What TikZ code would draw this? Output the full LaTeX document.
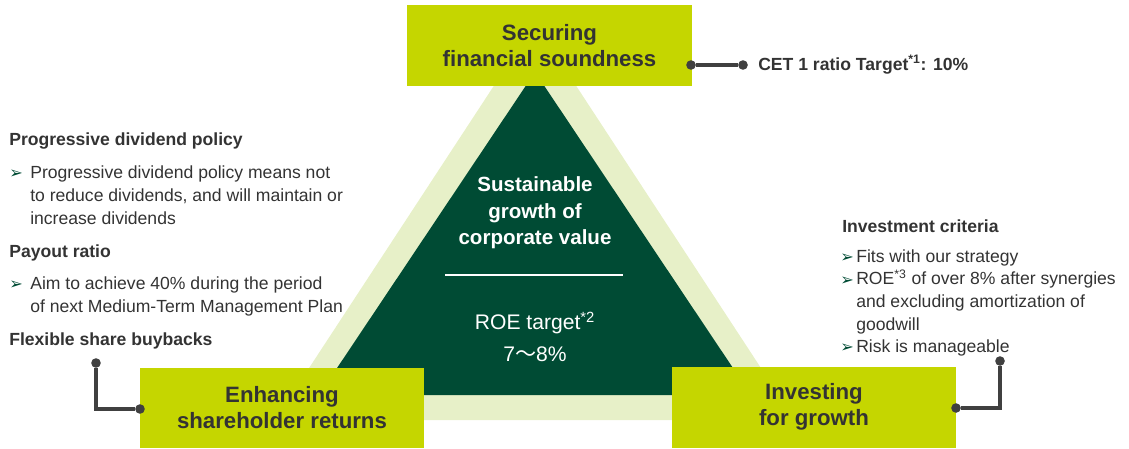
\documentclass[tikz,border=0pt]{standalone}
\usepackage{fontspec}
\setmainfont{Liberation Sans}
\newfontfamily\cjkfont{Noto Sans CJK JP}
\newfontfamily\symfont{DejaVu Sans}
\usepackage{xcolor}
\usetikzlibrary{positioning, calc}
\definecolor{limegreen}{RGB}{197,214,0}
\definecolor{palegreen}{RGB}{231,240,200}
\definecolor{deepgreen}{RGB}{0,75,52}
\definecolor{textgray}{RGB}{51,51,51}
\definecolor{wiregray}{RGB}{64,64,64}
\newcommand{\bul}{{\symfont\fontsize{11.5}{11.5}\selectfont\color{deepgreen}➢}}

\tikzset{
  pillarbox/.style={fill=limegreen, draw=none, inner sep=0pt},
  pillarlabel/.style={font=\fontsize{15.8}{18.5}\selectfont\bfseries, text=textgray, align=center},
  note/.style={font=\fontsize{12.5}{16.2}\selectfont, text=textgray, align=left, anchor=base west, inner sep=0pt},
  notehead/.style={note, font=\fontsize{12.5}{16.2}\selectfont\bfseries},
  wire/.style={wiregray, line width=2.4pt},
  pin/.style={circle, fill=wiregray, inner sep=0pt, minimum size=0.24cm},
}

\begin{document}
\begin{tikzpicture}[x=0.025cm, y=-0.025cm]
        \useasboundingbox (0,0) rectangle (1129,448);

        % Triangles
        \fill[palegreen] (535,23) -- (795,420) -- (275,420) -- cycle;
        \fill[deepgreen] (535,72) -- (751,395) -- (319,395) -- cycle;

        % Centre text
        \node[font=\fontsize{14.6}{18.8}\selectfont\bfseries, text=white, align=center] (goal) at (535,213) {Sustainable\\growth of\\corporate value};
        \draw[white, line width=1.2pt] (445,275) -- (623,275);
        \node[font=\fontsize{15}{23}\selectfont, text=white, align=center] (roe) at (535,337) {ROE target\textsuperscript{*2}\\7{\cjkfont ～}8\%};

        % Pillars
        \node[pillarbox, minimum width=7.125cm, minimum height=2.025cm] (secure) at (549.5,45.5) {};
        \node[pillarlabel] at (secure) {Securing\\financial soundness};
        \node[pillarbox, minimum width=7.1cm, minimum height=2cm, anchor=north west] (returns) at (140,368) {};
        \node[pillarlabel] (returnslabel) at (282,408) {Enhancing\\shareholder returns};
        \node[pillarbox, minimum width=7.1cm, minimum height=2.025cm, anchor=north west] (growth) at (672,367) {};
        \node[pillarlabel] (growthlabel) at (814,407) {Investing\\for growth};

        % CET 1 note
        \node[pin] (cetA) at (691,65) {};
        \node[pin] (cetB) at (743,65) {};
        \draw[wire] (cetA) -- (cetB);
        \node[notehead] (cet) at (758,70) {CET 1 ratio Target\textsuperscript{*1}: 10\%};

        % Shareholder returns notes (multi-line nodes sit on their last baseline)
        \node[notehead] (divhead) at (9,145) {Progressive dividend policy};
        \node[note] (divbul) at (9,178) {\bul};
        \node[note] (divtext) at (30,224) {Progressive dividend policy means not\\to reduce dividends, and will maintain or\\increase dividends};
        \node[notehead] (payhead) at (9,257) {Payout ratio};
        \node[note] (paybul) at (9,289) {\bul};
        \node[note] (paytext) at (30,312) {Aim to achieve 40\% during the period\\of next Medium-Term Management Plan};
        \node[notehead] (buyhead) at (9,345) {Flexible share buybacks};
        \node[pin] (retA) at (96,363) {};
        \node[pin] (retB) at (140,409) {};
        \draw[wire] (retA) |- (retB);

        % Investment notes
        \node[notehead] (invhead) at (842,232) {Investment criteria};
        \node[note] (invbulA) at (840,262) {\bul};
        \node[note] (invtextA) at (856,262) {Fits with our strategy};
        \node[note] (invbulB) at (840,285) {\bul};
        \node[note] (invtextB) at (856,330) {ROE\textsuperscript{*3} of over 8\% after synergies\\and excluding amortization of\\goodwill};
        \node[note] (invbulC) at (840,352) {\bul};
        \node[note] (invtextC) at (856,352) {Risk is manageable};
        \node[pin] (invA) at (1000,361) {};
        \node[pin] (invB) at (956,408) {};
        \draw[wire] (invA) |- (invB);
    \end{tikzpicture}
\end{document}
